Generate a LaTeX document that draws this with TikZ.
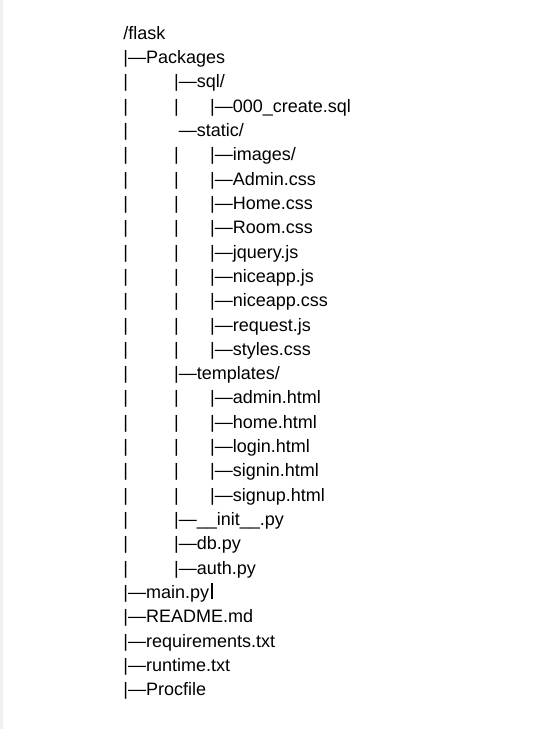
\documentclass[tikz,border=0pt]{standalone}
\usepackage{fontspec}
\setmainfont{Liberation Sans}
\usepackage{tikz}
\usetikzlibrary{calc}
\tikzset{
  entry/.style={anchor=base west, inner sep=0pt, outer sep=0pt, text=black,
    font=\fontsize{18}{21}\selectfont},
}
% tab stops and line pitch (px of the page)
\def\colA{123.4}
\def\colB{174.1}
\def\colC{210.1}
\providecommand{\rowY}[1]{39.3+24.31*#1}

\begin{document}
\begin{tikzpicture}[x=1pt, y=-1pt]

	\useasboundingbox (0,0) rectangle (543,729);
	\fill[gray!12] (0,0) rectangle (3,729);

	% bars that only carry a level down
	\foreach \i in {2,...,22}
		\node[entry] (barA\i) at (\colA, {\rowY{\i}}) {|};
	\foreach \i in {3,5,6,7,8,9,10,11,12,13,15,16,17,18,19}
		\node[entry] (barB\i) at (\colB, {\rowY{\i}}) {|};

	% entries
	\foreach \i/\c/\t in {
		0/\colA/{/flask},
		1/\colA/{|\textemdash Packages},
		2/\colB/{|\textemdash sql/},
		3/\colC/{|\textemdash 000\_create.sql},
		4/\colB/{\phantom{|}\textemdash static/},
		5/\colC/{|\textemdash images/},
		6/\colC/{|\textemdash Admin.css},
		7/\colC/{|\textemdash Home.css},
		8/\colC/{|\textemdash Room.css},
		9/\colC/{|\textemdash jquery.js},
		10/\colC/{|\textemdash niceapp.js},
		11/\colC/{|\textemdash niceapp.css},
		12/\colC/{|\textemdash request.js},
		13/\colC/{|\textemdash styles.css},
		14/\colB/{|\textemdash templates/},
		15/\colC/{|\textemdash admin.html},
		16/\colC/{|\textemdash home.html},
		17/\colC/{|\textemdash login.html},
		18/\colC/{|\textemdash signin.html},
		19/\colC/{|\textemdash signup.html},
		20/\colB/{|\textemdash \_\_init\_\_.py},
		21/\colB/{|\textemdash db.py},
		22/\colB/{|\textemdash auth.py},
		23/\colA/{|\textemdash main.py},
		24/\colA/{|\textemdash README.md},
		25/\colA/{|\textemdash requirements.txt},
		26/\colA/{|\textemdash runtime.txt},
		27/\colA/{|\textemdash Procfile}}
		\node[entry] (e\i) at (\c, {\rowY{\i}}) {\t};

	% text cursor
	\draw[line width=2pt] ($ (e23.base east)+(2.5,1) $) -- ($ (e23.base east)+(2.5,-15.5) $);

\end{tikzpicture}
\end{document}
